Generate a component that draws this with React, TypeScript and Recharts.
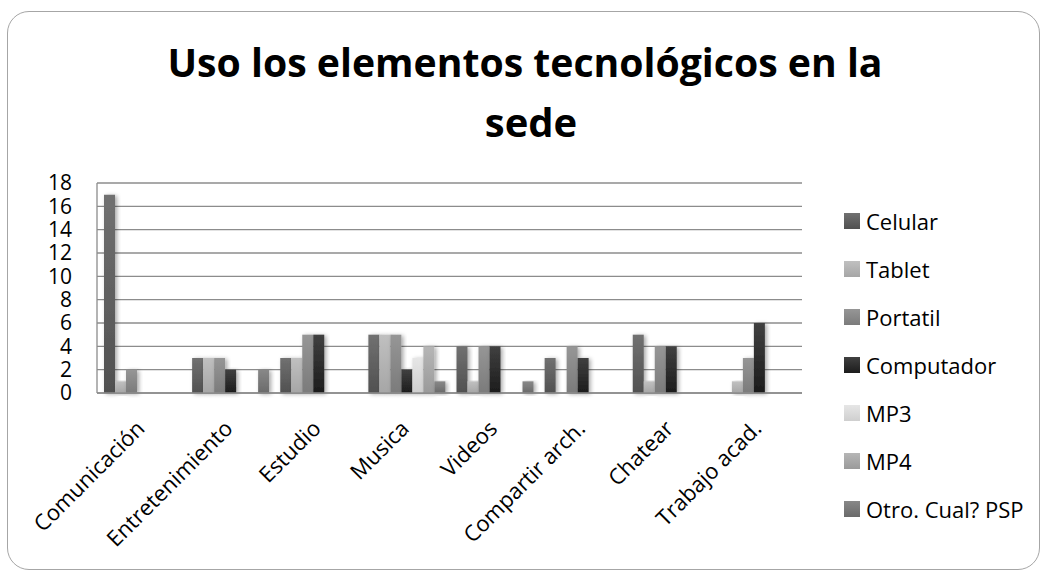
import { BarChart, Bar, XAxis, YAxis, CartesianGrid } from "recharts";

const categories = [
  "Comunicación",
  "Entretenimiento",
  "Estudio",
  "Musica",
  "Videos",
  "Compartir arch.",
  "Chatear",
  "Trabajo acad.",
];

const celular = [17, 3, 3, 5, 4, 3, 5, 0];
const tablet = [1, 3, 3, 5, 1, 0, 1, 1];
const portatil = [2, 3, 5, 5, 4, 4, 4, 3];
const computador = [0, 2, 5, 2, 4, 3, 4, 6];
const mp3 = [0, 0, 0, 3, 0, 0, 0, 0];
const mp4 = [0, 0, 0, 4, 0, 0, 0, 0];
const otro = [0, 2, 0, 1, 1, 0, 0, 0];

const yTicks = [0, 2, 4, 6, 8, 10, 12, 14, 16, 18];

const SERIES = [
  { key: "celular", name: "Celular", values: celular, top: "#717171", bottom: "#505050" },
  { key: "tablet", name: "Tablet", values: tablet, top: "#c0c0c0", bottom: "#a6a6a6" },
  { key: "portatil", name: "Portatil", values: portatil, top: "#969696", bottom: "#7b7b7b" },
  { key: "computador", name: "Computador", values: computador, top: "#404040", bottom: "#1c1c1c" },
  { key: "mp3", name: "MP3", values: mp3, top: "#e6e6e6", bottom: "#cfcfcf" },
  { key: "mp4", name: "MP4", values: mp4, top: "#b6b6b6", bottom: "#9a9a9a" },
  { key: "otro", name: "Otro. Cual? PSP", values: otro, top: "#888888", bottom: "#6a6a6a" },
];

const data = categories.map((c, i) => {
  const row: Record<string, string | number> = { cat: c };
  SERIES.forEach((s) => {
    row[s.key] = s.values[i];
  });
  return row;
});

const FONT = "'Open Sans', 'DejaVu Sans', sans-serif";

function CatTick({ x, y, payload }: any) {
  return (
    <g transform={`translate(${x + 5},${y + 35})`}>
      <text textAnchor="end" transform="rotate(-45)" fontSize={22} fontFamily={FONT} fill="#000">
        {payload.value}
      </text>
    </g>
  );
}

export default function App() {
  return (
    <div style={{ position: "absolute", left: 0, top: 0, width: 1044, height: 573, background: "#fff" }}>
      {/* outer frame */}
      <div
        style={{
          position: "absolute",
          left: 7,
          top: 11,
          width: 1031,
          height: 557,
          border: "1.5px solid #a6a6a6",
          borderRadius: 22,
        }}
      />

      <svg width={1044} height={160} style={{ position: "absolute", left: 0, top: 0 }}>
        <text
          x={525}
          y={77}
          textAnchor="middle"
          fontFamily={FONT}
          fontWeight={700}
          fontSize={40}
          textLength={715}
          lengthAdjust="spacingAndGlyphs"
          fill="#000"
        >
          Uso los elementos tecnológicos en la
        </text>
        <text x={531} y={137} textAnchor="middle" fontFamily={FONT} fontWeight={700} fontSize={40} fill="#000">
          sede
        </text>
      </svg>

      <div style={{ position: "absolute", left: 0, top: 0 }}>
        <BarChart
          width={1044}
          height={573}
          data={data}
          margin={{ top: 183, right: 242, bottom: 80, left: 37 }}
          barCategoryGap={7}
          barGap={0}
        >
          <defs>
            {SERIES.map((s) => (
              <linearGradient key={s.key} id={`g-${s.key}`} x1="0" y1="0" x2="0" y2="1">
                <stop offset="0%" stopColor={s.top} />
                <stop offset="100%" stopColor={s.bottom} />
              </linearGradient>
            ))}
            <filter id="shadow" x="-50%" y="-10%" width="200%" height="130%">
              <feDropShadow dx="2" dy="1" stdDeviation="2" floodColor="#000" floodOpacity="0.35" />
            </filter>
          </defs>
          <CartesianGrid vertical={false} stroke="#8c8c8c" strokeWidth={1.3} />
          <XAxis
            dataKey="cat"
            height={100}
            interval={0}
            tickLine={false}
            tickSize={0}
            axisLine={{ stroke: "#8c8c8c", strokeWidth: 1.3 }}
            tick={<CatTick />}
          />
          <YAxis
            width={60}
            domain={[0, 18]}
            ticks={yTicks}
            interval={0}
            tickLine={false}
            tickSize={0}
            tickMargin={25}
            axisLine={{ stroke: "#8c8c8c", strokeWidth: 1.3 }}
            tick={{ fontSize: 21, fill: "#000", fontFamily: FONT }}
          />
          {SERIES.map((s) => (
            <Bar
              key={s.key}
              dataKey={s.key}
              name={s.name}
              fill={`url(#g-${s.key})`}
              filter="url(#shadow)"
              isAnimationActive={false}
            />
          ))}
        </BarChart>
      </div>

      {/* legend */}
      {SERIES.map((s, i) => (
        <div
          key={s.key}
          style={{
            position: "absolute",
            left: 844,
            top: 207 + i * 48,
            height: 28,
            display: "flex",
            alignItems: "center",
            fontFamily: FONT,
            fontSize: 22,
            color: "#000",
            whiteSpace: "nowrap",
          }}
        >
          <span
            style={{
              display: "inline-block",
              width: 16,
              height: 16,
              marginRight: 6,
              background: `linear-gradient(${s.top}, ${s.bottom})`,
            }}
          />
          {s.name}
        </div>
      ))}
    </div>
  );
}
